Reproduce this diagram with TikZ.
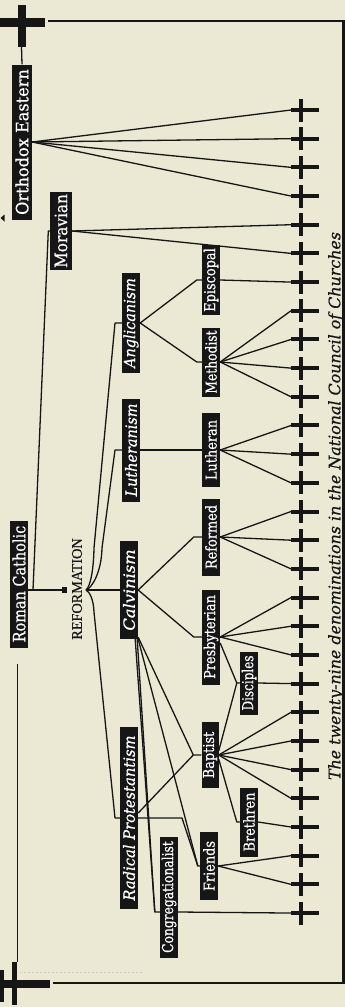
\documentclass[tikz,border=0pt]{standalone}
\usepackage{fontspec}
\setmainfont{DejaVu Serif}
\newfontfamily\capsfont{Liberation Serif}
\usepackage{graphicx}
\definecolor{bgc}{RGB}{235,232,212}
\definecolor{ink}{RGB}{22,22,22}
\pgfdeclarelayer{back}
\pgfdeclarelayer{lines}
\pgfsetlayers{back,lines,main}
\newcommand\rlab[2][0.86]{\rotatebox{90}{\scalebox{#1}[1]{#2}}}
\begin{document}
\begin{tikzpicture}[x=1pt,y=-1pt,
  bx/.style={fill=ink,text=white,inner sep=0pt,anchor=center},
  lone/.style={font=\fontsize{17}{17}\selectfont\addfontfeature{FakeBold=0.6}},
  ltwo/.style={font=\fontsize{15.5}{16}\selectfont\itshape\addfontfeature{FakeBold=0.6}},
  lthree/.style={font=\fontsize{15}{15}\selectfont\addfontfeature{FakeBold=0.6}},
  cn/.style={draw=ink,line width=1.3pt,line join=round},
  crs/.pic={\fill[ink] (0,-2) rectangle (28,2); \fill[ink] (8,-11.5) rectangle (12,11.5);}
]
\useasboundingbox (0,0) rectangle (345,1007);
\begin{pgfonlayer}{back}
\fill[bgc] (0,0) rectangle (345,1007);
\end{pgfonlayer}

% frame and end crosses
\fill[ink] (17.5,5) rectangle (25.5,47);
\fill[ink] (0,17.5) rectangle (45,27);
\draw[ink,line width=2.4pt] (48,21) -- (343.5,21) -- (343.5,983) -- (53,983);
\fill[ink] (11.5,962) rectangle (17,1005);
\fill[ink] (0,970) rectangle (4,1002);
\fill[ink] (0,979.5) rectangle (50,988);
\fill[ink] (0.5,218) -- (4.5,214.5) -- (4.5,221.5) -- cycle;
\draw[ink!22,line width=0.7pt,dash pattern=on 2pt off 2pt] (20,972) -- (143,972);
\coordinate (tcr) at (21.5,47);
\coordinate (bcr) at (17.5,962);

% leaf crosses
\foreach \i in {0,...,28}{
  \coordinate (c\i) at (291,{110+28.68*\i});
  \pic at (c\i) {crs};
}

% nodes
\node[bx,lone,minimum width=20pt,minimum height=155pt] (OE) at (22,142) {\rlab[0.95]{Orthodox Eastern}};
\node[bx,lone,minimum width=18pt,minimum height=127pt] (RC) at (19,584) {\rlab[0.85]{Roman Catholic}};
\node[bx,lone,minimum width=22pt,minimum height=78pt] (MOR) at (61,231) {\rlab[0.9]{Moravian}};
\node[text=ink,inner sep=0pt,font=\capsfont\fontsize{15}{15}\selectfont\addfontfeature{FakeBold=0.5}] (refm) at (77,589) {\rlab[0.95]{REFORMATION}};

\node[bx,ltwo,minimum width=18pt,minimum height=100pt] (ANG) at (131,323) {\rlab[0.93]{Anglicanism}};
\node[bx,ltwo,minimum width=18pt,minimum height=103pt] (LUTH) at (131,450) {\rlab[0.93]{Lutheranism}};
\node[bx,ltwo,minimum width=18pt,minimum height=98pt] (CALV) at (129,590) {\rlab[1.05]{Calvinism}};
\node[bx,ltwo,minimum width=18pt,minimum height=182pt] (RAD) at (129,818) {\rlab[0.95]{Radical Protestantism}};

\node[bx,lthree,minimum width=18pt,minimum height=70pt] (EPI) at (211,280) {\rlab{Episcopal}};
\node[bx,lthree,minimum width=18pt,minimum height=69pt] (METH) at (211,362) {\rlab[0.82]{Methodist}};
\node[bx,lthree,minimum width=18pt,minimum height=74pt] (LUT) at (211,450) {\rlab{Lutheran}};
\node[bx,lthree,minimum width=18pt,minimum height=77pt] (REF) at (211,537) {\rlab{Reformed}};
\node[bx,lthree,minimum width=18pt,minimum height=95pt] (PRES) at (211,637) {\rlab{Presbyterian}};
\node[bx,lthree,minimum width=18pt,minimum height=63pt] (DIS) at (249,683) {\rlab[0.8]{Disciples}};
\node[bx,lthree,minimum width=17pt,minimum height=66pt] (BAP) at (210,755) {\rlab{Baptist}};
\node[bx,lthree,minimum width=18pt,minimum height=69pt] (BRE) at (249,822) {\rlab{Brethren}};
\node[bx,lthree,minimum width=18pt,minimum height=68pt] (FRI) at (209,866) {\rlab{Friends}};
\node[bx,lthree,minimum width=18pt,minimum height=121pt] (CONG) at (169,897) {\rlab[0.82]{Congregationalist}};

\node[text=ink,inner sep=0pt] (cap) at (336,506) {\rotatebox{90}{\resizebox{548pt}{!}{\itshape\addfontfeature{FakeBold=0.4}The twenty-nine denominations in the National Council of Churches}}};

\coordinate (congin) at ([yshift=-15pt]CONG.west);
\coordinate (congout) at ([yshift=-15pt]CONG.east);
\coordinate (rcj) at (33,590);
\coordinate (rend) at (66,590);
\coordinate (R) at (86,590);

\begin{pgfonlayer}{lines}
\draw[cn] (tcr) -- (OE.north);
\draw[ink,line width=1.8pt] ([xshift=-1.5pt,yshift=-16pt]RC.south) -- (bcr);
\draw[ink,line width=1.8pt] ([yshift=-6pt]RC.east) -- (rend);
\fill[ink] (61.5,587) rectangle (67,593);
\draw[cn] (rcj) -- ([xshift=-1.5pt]MOR.west) -- (MOR.west);

\draw[cn] (R) .. controls (90,587) and (93.5,572) .. (94,548) -- (115,323) -- (ANG.west);
\draw[cn] (R) .. controls (92,588) and (101.5,572) .. (102,548) -- (115,450) -- (LUTH.west);
\draw[cn] (R) -- (CALV.west);
\draw[cn] (R) .. controls (90,592) and (93.5,600) .. (94,612) -- (115,818) -- (RAD.west);

\draw[cn] (ANG.east) -- ([xshift=-5pt]EPI.west) -- (EPI.west);
\draw[cn] (ANG.east) -- ([xshift=-5pt]METH.west) -- (METH.west);
\draw[cn] (LUTH.east) -- (LUT.west);
\draw[cn] (CALV.east) -- ([xshift=-8pt]REF.west) -- (REF.west);
\draw[cn] (CALV.east) -- ([xshift=-8pt]PRES.west) -- (PRES.west);

\draw[cn] ([xshift=-3pt]CALV.south east) -- ([xshift=-5pt]congin) -- (congin);
\draw[cn] ([xshift=-1pt]CALV.south east) -- ([xshift=-5pt]congin);
\draw[cn] (CALV.south east) -- ([xshift=-2pt]FRI.west) -- (FRI.west);
\draw[cn] ([yshift=2pt]CALV.south east) -- ([xshift=-8pt]BAP.west) -- (BAP.west);

\draw[cn] ([yshift=5pt]RAD.east) -- ([xshift=-8pt]BAP.west);
\draw[cn] (RAD.east) -- (182,818) -- ([xshift=-2pt]FRI.west);

\draw[cn] ([yshift=-6pt]PRES.east) -- ([xshift=-3pt]DIS.west) -- (DIS.west);
\draw[cn] ([yshift=4pt]BAP.east) -- ([xshift=-3pt]DIS.west);
\draw[cn] ([yshift=-4pt]BAP.east) -- ([xshift=-3pt]BRE.west) -- (BRE.west);

\foreach \n/\i in {OE/0,OE/1,OE/2,OE/3,MOR/4,MOR/5,EPI/6,METH/7,METH/8,METH/9,METH/10,LUT/11,LUT/12,LUT/13,REF/14,REF/15,REF/16,PRES/17,PRES/18,PRES/19,DIS/20,BAP/21,BAP/22,BAP/23,BAP/24,BRE/25,FRI/26,FRI/27}
  \draw[cn] (\n.east) -- (c\i);
\draw[cn] (congout) -- (c28);
\end{pgfonlayer}
\end{tikzpicture}
\end{document}
